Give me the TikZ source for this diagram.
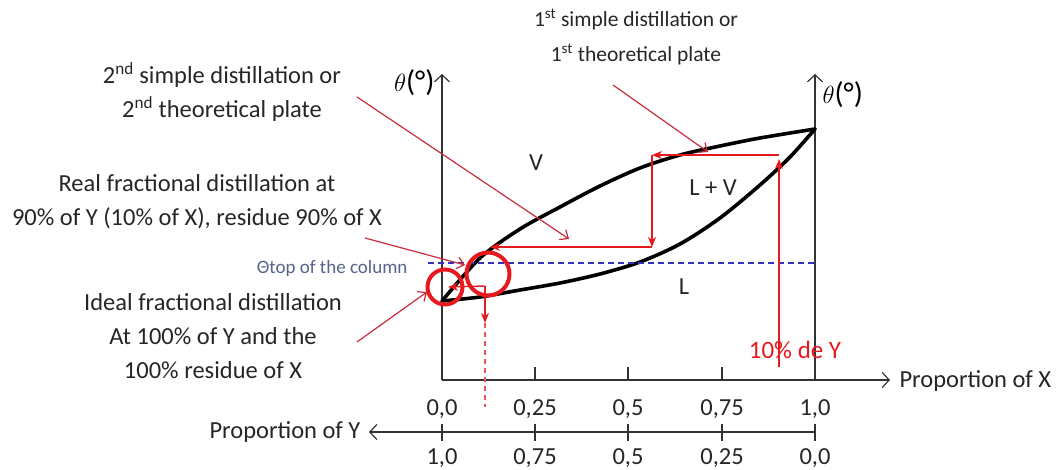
\documentclass[tikz,border=0pt]{standalone}
\usepackage{fontspec}
\setmainfont{Carlito}
\usepackage{tikz}
\usetikzlibrary{arrows.meta,calc,positioning}
\definecolor{stairred}{RGB}{230,25,30}
\definecolor{calloutred}{RGB}{200,45,60}
\definecolor{columnblue}{RGB}{50,50,190}
\definecolor{columntext}{RGB}{85,100,140}
\tikzset{
  note/.style={font=\fontsize{24.5}{34}\selectfont, align=center, text=black!85},
  region/.style={font=\fontsize{24.5}{28}\selectfont, text=black!85},
  ticklabel/.style={font=\fontsize{24.5}{28}\selectfont, text=black!85},
  eqcurve/.style={line width=3.6pt, black, line cap=round},
  axisline/.style={line width=1.2pt, black!80},
  axisarrow/.style={axisline, -{Straight Barb[length=7pt, width=15pt, line width=1.2pt]}},
  stairline/.style={line width=1.4pt, stairred,
    -{Stealth[length=10pt, width=8pt, inset=3pt]}},
  callout/.style={line width=1.2pt, calloutred,
    -{Straight Barb[length=7pt, width=12pt, line width=1.2pt]}},
  ring/.style={draw=stairred, line width=4pt, circle, minimum size=#1, inner sep=0pt},
  columnline/.style={columnblue, line width=1.1pt, dash pattern=on 6pt off 4pt},
}

\begin{document}
\begin{tikzpicture}[x=1pt, y=-1pt]
\useasboundingbox (0,0) rectangle (1056,470);

%% ── Axes ────────────────────────────────────────────────────────────────
\coordinate (origin) at (442,380);
\coordinate (xtip)   at (890,380);
\coordinate (lefttop) at (442,74);
\coordinate (rightbase) at (815,380);
\coordinate (righttop) at (815,74);
\coordinate (ybase)  at (815,432);
\coordinate (ytip)   at (369,432);

\draw[axisarrow] (origin) -- (lefttop);
\draw[axisarrow] (rightbase) -- (righttop);
\draw[axisarrow] (origin) -- (xtip);
\draw[axisarrow] (ybase) -- (ytip);

\node[ticklabel, anchor=west] (propx) at (896,381) {Proportion of X};
\node[ticklabel, anchor=east] (propy) at (364,432) {Proportion of Y};
\node[font=\fontsize{30}{32}\selectfont, anchor=east] (thetaleft) at (438,83) {$\theta$(\textdegree)};
\node[font=\fontsize{30}{32}\selectfont, anchor=west] (thetaright) at (819,95) {$\theta$(\textdegree)};

%% ticks and scale values
\foreach \tx/\top/\bot [count=\i] in {442/{0,0}/{1,0}, 535/{0,25}/{0,75},
    628/{0,5}/{0,5}, 722/{0,75}/{0,25}, 815/{1,0}/{0,0}} {
  \draw[axisline] (\tx,424) -- (\tx,441);
  \ifnum\i>1\ifnum\i<5 \draw[axisline] (\tx,367) -- (\tx,380);\fi\fi
  \node[ticklabel] (xval\i) at (\tx,409) {\top};
  \node[ticklabel] (yval\i) at (\tx,458) {\bot};
}

%% ── Liquid / vapour curves ──────────────────────────────────────────────
\draw[eqcurve] plot[smooth] coordinates {(442,301) (480,258) (520,229)
  (560,207) (600,186) (640,168) (680,155) (720,146) (760,138) (815,129)};
\draw[eqcurve] plot[smooth] coordinates {(442,301) (480,297) (520,290)
  (560,283) (600,274) (640,262) (680,244) (720,218) (760,185) (790,157) (815,129)};

\node[region] (vap)    at (536,163) {V};
\node[region] (twoph)  at (713,188) {L + V};
\node[region] (liq)    at (684,287) {L};

%% ── Column top temperature ──────────────────────────────────────────────
\node[font=\fontsize{19}{22}\selectfont, text=columntext, anchor=east]
  (coltop) at (411,268) {Θtop of the column};
\draw[columnline] ($(coltop.east)+(17,-5)$) -- (815,263);

%% ── Staircase (theoretical plates) ──────────────────────────────────────
\node[text=stairred, font=\fontsize{25}{28}\selectfont] (tenY) at (795,350) {10\% de Y};
\coordinate (s0) at (779,367);
\coordinate (s1) at (779,159);
\coordinate (s2) at (779,155);
\coordinate (s3) at (652,155);
\coordinate (s4) at (652,247);
\coordinate (s5) at (490,247);
\coordinate (s6) at (485,286);
\coordinate (s7) at (448,287);
\coordinate (s8) at (485,323);
\coordinate (s9) at (485,407);

\draw[stairline] (s0) -- (s1);
\draw[stairline] (s2) -- (s3);
\draw[stairline] (s3) -- (s4);
\draw[stairline] (s4) -- (s5);
\draw[stairline] (s6) -- (s7);
\draw[stairline] (s6) -- (s8);
\draw[stairred!75, line width=1.3pt, dash pattern=on 5pt off 4pt] (s8) -- (s9);

\node[ring=35pt] (idealring) at (445,287) {};
\node[ring=43pt] (realring)  at (488,274) {};

%% ── Callouts ────────────────────────────────────────────────────────────
\node[note, font=\fontsize{21.5}{35}\selectfont] (firstplate) at (636,37)
  {1\textsuperscript{st} simple distillation or\\1\textsuperscript{st} theoretical plate};
\node[note] (secondplate) at (222,92)
  {2\textsuperscript{nd} simple distillation or\\2\textsuperscript{nd} theoretical plate};
\node[note] (realfrac) at (197,202)
  {Real fractional distillation at\\90\% of Y (10\% of X), residue 90\% of X};
\node[note] (idealfrac) at (213,336)
  {Ideal fractional distillation\\At 100\% of Y and the\\100\% residue of X};

\coordinate (tipfirst)  at (708,152);
\coordinate (tipsecond) at (569,239);
\coordinate (tipreal)   at (465,265);
\coordinate (tipideal)  at (427,292);

\draw[callout] ($(firstplate.center)+(-23,48)$) -- (tipfirst);
\draw[callout] ($(secondplate.center)+(135,5)$) -- (tipsecond);
\draw[callout] ($(realfrac.center)+(168,36)$) -- (tipreal);
\draw[callout] ($(idealfrac.center)+(144,6)$) -- (tipideal);

\end{tikzpicture}
\end{document}
